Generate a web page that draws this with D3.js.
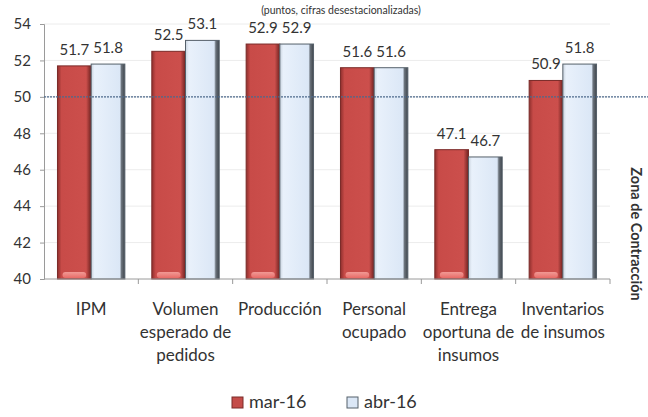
<!DOCTYPE html>
<meta charset="utf-8">
<style>
body { margin: 0; background: #fff; }
text { font-family: Lato, "Open Sans", sans-serif; fill: #333; }
.grid line { stroke: #ececec; }
</style>
<body>
<script src="https://cdn.jsdelivr.net/npm/d3@7"></script>
<script>

var width = 648,
    height = 417;

var categories = ["IPM", "Volumen esperado de pedidos", "Producción", "Personal ocupado", "Entrega oportuna de insumos", "Inventarios de insumos"];
var catLines = [["IPM"], ["Volumen", "esperado de", "pedidos"], ["Producción"], ["Personal", "ocupado"], ["Entrega", "oportuna de", "insumos"], ["Inventarios", "de insumos"]];
var series = ["mar-16", "abr-16"];
var mar16 = [51.7, 52.5, 52.9, 51.6, 47.1, 50.9];
var abr16 = [51.8, 53.1, 52.9, 51.6, 46.7, 51.8];
var yTicks = [40, 42, 44, 46, 48, 50, 52, 54];
var threshold = 50;

var svg = d3.select("body").append("svg")
    .attr("width", width)
    .attr("height", height);

var defs = svg.append("defs");

var gRed = defs.append("linearGradient").attr("id", "red");
gRed.append("stop").attr("offset", "0").attr("stop-color", "#8f2f2d");
gRed.append("stop").attr("offset", "0.12").attr("stop-color", "#c84b48");
gRed.append("stop").attr("offset", "0.85").attr("stop-color", "#cc4f4c");
gRed.append("stop").attr("offset", "1").attr("stop-color", "#6e2220");

var gBlue = defs.append("linearGradient").attr("id", "blue");
gBlue.append("stop").attr("offset", "0").attr("stop-color", "#c9d3de");
gBlue.append("stop").attr("offset", "0.1").attr("stop-color", "#e9f1fb");
gBlue.append("stop").attr("offset", "0.85").attr("stop-color", "#dbe7f6");
gBlue.append("stop").attr("offset", "0.9").attr("stop-color", "#6b737c");
gBlue.append("stop").attr("offset", "1").attr("stop-color", "#3e444a");

var gPink = defs.append("linearGradient").attr("id", "pink").attr("x1", 0).attr("y1", 0).attr("x2", 0).attr("y2", 1);
gPink.append("stop").attr("offset", "0").attr("stop-color", "#f5a19c").attr("stop-opacity", 0.9);
gPink.append("stop").attr("offset", "1").attr("stop-color", "#e86a66");

var x0 = d3.scaleBand()
    .domain(categories)
    .range([44, 610]);

var x1 = d3.scaleBand()
    .domain(series)
    .range([0, x0.bandwidth()])
    .paddingOuter(0.4);

var y = d3.scaleLinear()
    .domain([40, 54])
    .range([279, 24]);

// gridlines
svg.append("g").attr("class", "grid")
  .selectAll("line").data(yTicks.slice(1)).join("line")
    .attr("x1", 44).attr("x2", 610)
    .attr("y1", d => y(d)).attr("y2", d => y(d));

// y axis
var yAxis = svg.append("g")
    .attr("transform", "translate(44,0)")
    .call(d3.axisLeft(y).tickValues(yTicks).tickSize(4).tickPadding(9));
yAxis.select(".domain").attr("stroke", "#9a9a9a");
yAxis.selectAll(".tick line").attr("stroke", "#9a9a9a");
yAxis.selectAll(".tick text").style("font-size", "15px").attr("fill", "#404040");

// bars
var rows = categories.map((c, i) => ({ cat: c, values: [mar16[i], abr16[i]] }));

var groups = svg.append("g").selectAll("g").data(rows).join("g")
    .attr("transform", d => "translate(" + x0(d.cat) + ",0)");

var bars = groups.selectAll("g").data(d => d.values.map((v, j) => ({ s: series[j], v: v }))).join("g");

bars.append("rect")
    .attr("x", d => x1(d.s))
    .attr("y", d => y(d.v))
    .attr("width", x1.bandwidth())
    .attr("height", d => y(40) - y(d.v))
    .attr("fill", d => d.s === "mar-16" ? "url(#red)" : "url(#blue)")
    .attr("stroke", d => d.s === "mar-16" ? "#7a2a28" : "#55606a")
    .attr("stroke-width", 1);

bars.filter(d => d.s === "mar-16").append("rect")
    .attr("x", d => x1(d.s) + 5)
    .attr("y", y(40) - 7)
    .attr("width", x1.bandwidth() - 10)
    .attr("height", 6)
    .attr("rx", 3)
    .attr("fill", "url(#pink)");

bars.append("text")
    .attr("x", d => x1(d.s) + x1.bandwidth() / 2)
    .attr("y", d => y(d.v) - 11)
    .attr("text-anchor", "middle")
    .style("font-size", "15px")
    .text(d => d.v.toFixed(1));

// x axis
var xAxis = svg.append("g")
    .attr("transform", "translate(0,279)");
xAxis.append("line")
    .attr("x1", 44).attr("x2", 610)
    .attr("stroke", "#9a9a9a");
xAxis.selectAll(".tk").data(categories).join("line")
    .attr("class", "tk")
    .attr("x1", d => x0(d) + x0.bandwidth()).attr("x2", d => x0(d) + x0.bandwidth())
    .attr("y1", 0).attr("y2", 5)
    .attr("stroke", "#9a9a9a");

var labels = svg.append("g").selectAll("text").data(categories).join("text")
    .attr("x", d => x0(d) + x0.bandwidth() / 2)
    .attr("y", 315)
    .attr("text-anchor", "middle")
    .style("font-size", "17px")
    .attr("fill", "#333");
labels.selectAll("tspan").data((d, i) => catLines[i]).join("tspan")
    .attr("x", function() { return this.parentNode.getAttribute("x"); })
    .attr("dy", (d, i) => i === 0 ? 0 : 23)
    .text(d => d);

// threshold line at 50
svg.append("line")
    .attr("x1", 44).attr("x2", width)
    .attr("y1", y(threshold)).attr("y2", y(threshold))
    .attr("stroke", "#4d6a8c")
    .attr("stroke-width", 1.2)
    .attr("stroke-dasharray", "2,1");

// subtitle
svg.append("text")
    .attr("x", 341).attr("y", 14)
    .attr("text-anchor", "middle")
    .style("font-size", "10.5px")
    .text("(puntos, cifras desestacionalizadas)");

// side label
svg.append("text")
    .attr("transform", "translate(631,234) rotate(90)")
    .attr("text-anchor", "middle")
    .style("font-size", "14.5px")
    .style("font-weight", "bold")
    .attr("fill", "#222")
    .text("Zona de Contracción");

// legend
var legend = svg.append("g").attr("transform", "translate(232,397)");
var li = legend.selectAll("g").data(series).join("g")
    .attr("transform", (d, i) => "translate(" + (i * 115) + ",0)");
li.append("rect")
    .attr("width", 11).attr("height", 11)
    .attr("fill", (d, i) => i === 0 ? "#c44c49" : "#dbe7f6")
    .attr("stroke", (d, i) => i === 0 ? "#7a2a28" : "#55606a");
li.append("text")
    .attr("x", 17).attr("y", 11)
    .style("font-size", "18px")
    .text(d => d);

</script>
